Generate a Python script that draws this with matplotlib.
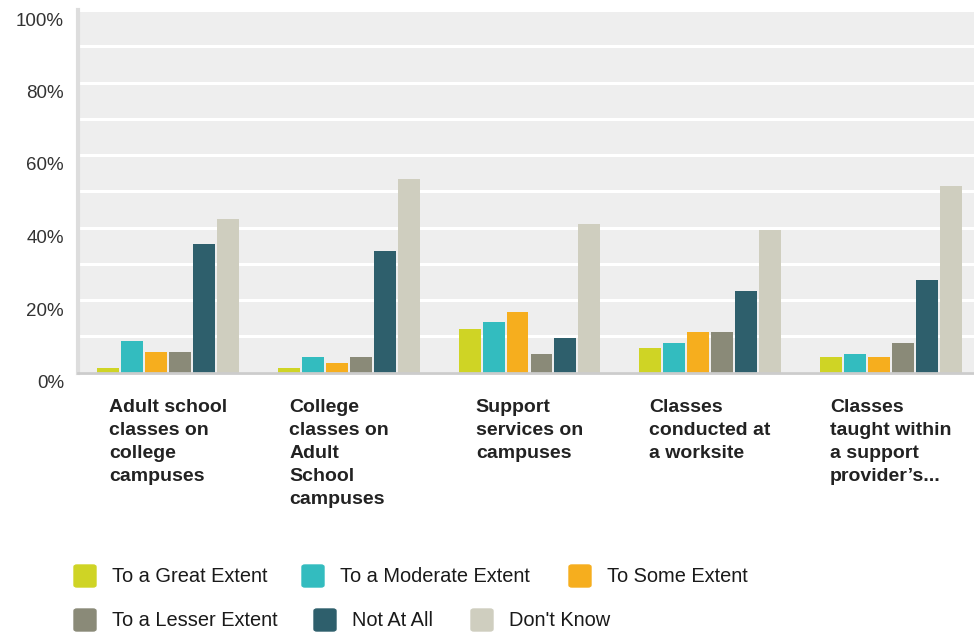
import matplotlib.pyplot as plt
import matplotlib.transforms as mtransforms
from matplotlib.patches import FancyBboxPatch
import numpy as np

plt.rcParams['font.family'] = ['Liberation Sans', 'DejaVu Sans']

# data (percent)
categories = [
    "Adult school\nclasses on\ncollege\ncampuses",
    "College\nclasses on\nAdult\nSchool\ncampuses",
    "Support\nservices on\ncampuses",
    "Classes\nconducted at\na worksite",
    "Classes\ntaught within\na support\nprovider\u2019s...",
]
series_names = ["To a Great Extent", "To a Moderate Extent", "To Some Extent",
                "To a Lesser Extent", "Not At All", "Don't Know"]
great = [1.2, 1.2, 12.1, 6.8, 4.3]
moderate = [8.7, 4.3, 13.8, 8.2, 5.1]
some = [5.7, 2.6, 16.8, 11.3, 4.3]
lesser = [5.7, 4.3, 5.1, 11.3, 8.2]
not_at_all = [35.4, 33.5, 9.6, 22.4, 25.4]
dont_know = [42.4, 53.5, 41.0, 39.3, 51.5]
series = [great, moderate, some, lesser, not_at_all, dont_know]
colors = ["#cfd425", "#33bcbf", "#f6ae1e", "#8a8a78", "#2e5f6c", "#cfcebf"]

fig = plt.figure(figsize=(9.74, 6.32), dpi=100)
ax = fig.add_axes([78 / 974, 1 - 372.5 / 632, 903 / 974, 362.5 / 632])
ax.set_facecolor("#eeeeee")

x = np.arange(len(categories))
step = 0.1328
width = 0.1217
for i, (vals, col) in enumerate(zip(series, colors)):
    ax.bar(x + (i - 2.5) * step, vals, width=width, color=col, zorder=3)

ax.set_xlim(-0.5, len(categories) - 0.5)
ax.set_ylim(0, 100)
ax.set_yticks(np.arange(0, 101, 20))
ax.set_yticklabels([f"{v}%" for v in range(0, 101, 20)])
ax.set_yticks(np.arange(0, 101, 10), minor=True)
ax.grid(axis="y", which="both", color="white", linewidth=2.2, zorder=1)
ax.tick_params(axis="y", which="both", length=0, pad=10, labelsize=13.5,
               labelcolor="#333333")
offset = mtransforms.ScaledTranslation(0, -9 / 100, fig.dpi_scale_trans)
for lbl in ax.get_yticklabels():
    lbl.set_transform(lbl.get_transform() + offset)

ax.set_xticks(x)
ax.set_xticklabels(categories, fontsize=14, fontweight="bold", color="#222222",
                   linespacing=1.47)
for lbl in ax.get_xticklabels():
    lbl.set_multialignment("left")
ax.tick_params(axis="x", length=0, pad=19)
# the second label sits a little left of its group in the reference
shift = mtransforms.ScaledTranslation(-10 / 100, 0, fig.dpi_scale_trans)
lbl2 = ax.get_xticklabels()[1]
lbl2.set_transform(lbl2.get_transform() + shift)

for s in ["top", "right"]:
    ax.spines[s].set_visible(False)
ax.spines["left"].set_color("#dddddd")
ax.spines["left"].set_linewidth(3)
ax.spines["bottom"].set_color("#cccccc")
ax.spines["bottom"].set_linewidth(2)
ax.spines["bottom"].set_zorder(4)

# legend laid out in two rows like the reference
legend_pos = [(74, 576), (302, 576), (569, 576), (74, 620), (314, 620), (471, 620)]
for (px, py), name, col in zip(legend_pos, series_names, colors):
    fig.patches.append(FancyBboxPatch((px / 974, 1 - (py + 11) / 632), 22 / 974, 22 / 632,
                                      boxstyle="round,pad=0,rounding_size=0.003",
                                      transform=fig.transFigure, color=col))
    fig.text((px + 38) / 974, 1 - py / 632, name, fontsize=14.4, color="#1a1a1a",
             va="center", ha="left")

fig.savefig("out.png", dpi=100)
